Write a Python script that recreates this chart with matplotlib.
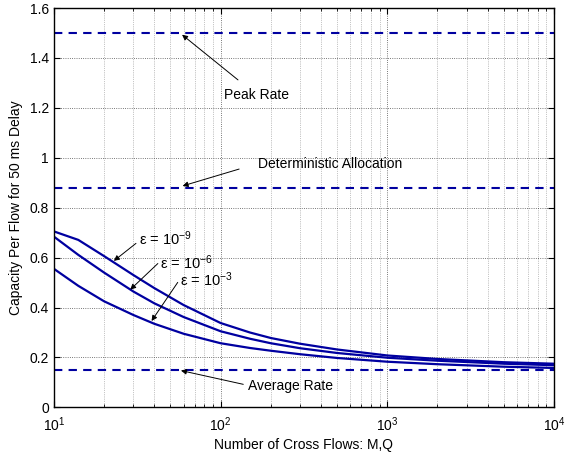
import numpy as np
import matplotlib
matplotlib.use("Agg")
import matplotlib.pyplot as plt

plt.rcParams['font.family'] = ['Liberation Sans', 'DejaVu Sans']
plt.rcParams['mathtext.default'] = 'regular'

# data
flows = [10, 14, 20, 30, 40, 60, 100, 150, 200, 300, 500, 1000, 2000, 5000, 10000]
cap_e9 = [0.705, 0.671, 0.606, 0.530, 0.478, 0.410, 0.338, 0.300, 0.278, 0.255, 0.232, 0.208, 0.194, 0.181, 0.175]
cap_e6 = [0.684, 0.611, 0.540, 0.464, 0.417, 0.362, 0.305, 0.275, 0.257, 0.237, 0.218, 0.199, 0.187, 0.175, 0.169]
cap_e3 = [0.555, 0.487, 0.425, 0.370, 0.335, 0.295, 0.257, 0.238, 0.227, 0.213, 0.198, 0.183, 0.173, 0.163, 0.158]
peak_rate = 1.5
det_alloc = 0.88
avg_rate = 0.15
yticks = [0, 0.2, 0.4, 0.6, 0.8, 1.0, 1.2, 1.4, 1.6]
yticklabels = ['0', '0.2', '0.4', '0.6', '0.8', '1', '1.2', '1.4', '1.6']

blue = '#0000a0'

fig = plt.figure(figsize=(5.74, 4.58), dpi=100)
ax = fig.add_axes([0.094, 0.1105, 0.871, 0.872])

for y in [peak_rate, det_alloc, avg_rate]:
    ax.axhline(y, color=blue, lw=1.5, ls=(0, (4, 3)))

ax.plot(flows, cap_e9, color=blue, lw=1.6)
ax.plot(flows, cap_e6, color=blue, lw=1.6)
ax.plot(flows, cap_e3, color=blue, lw=1.6)

ax.set_xscale('log')
ax.set_xlim(10, 10000)
ax.set_ylim(0, 1.6)
ax.set_yticks(yticks)
ax.set_yticklabels(yticklabels)
ax.set_xticks([10, 100, 1000, 10000])
ax.set_xticklabels(['$10^1$', '$10^2$', '$10^3$', '$10^4$'])

ax.grid(True, which='major', color='k', ls=':', lw=0.6, alpha=0.7)
ax.grid(True, which='minor', axis='x', color='k', ls=':', lw=0.5, alpha=0.45)
ax.tick_params(which='both', direction='in', top=True, right=True, labelsize=10)
ax.tick_params(axis='x', which='major', pad=6)
ax.tick_params(which='major', length=4)
ax.tick_params(which='minor', length=2.5)
for s in ax.spines.values():
    s.set_linewidth(1.0)

ax.set_xlabel('Number of Cross Flows: M,Q', fontsize=10, labelpad=3)
ax.set_ylabel('Capacity Per Flow for 50 ms Delay', fontsize=10, labelpad=5)

arrow = dict(arrowstyle='-|>', color='k', lw=0.7, mutation_scale=8)
fs = 10
ax.annotate('', xy=(57, 1.5), xytext=(131, 1.305), arrowprops=arrow)
ax.text(105, 1.25, 'Peak Rate', fontsize=fs, va='center', ha='left')
ax.annotate('', xy=(57, 0.884), xytext=(134, 0.958), arrowprops=arrow)
ax.text(168, 0.975, 'Deterministic Allocation', fontsize=fs, va='center', ha='left')
ax.annotate('', xy=(55.7, 0.15), xytext=(142, 0.09), arrowprops=arrow)
ax.text(146, 0.086, 'Average Rate', fontsize=fs, va='center', ha='left')

ax.annotate('', xy=(22.2, 0.58), xytext=(32, 0.664), arrowprops=arrow)
ax.text(32.5, 0.675, 'ε = 10$^{-9}$', fontsize=fs + 0.5, va='center', ha='left')
ax.annotate('', xy=(27.9, 0.464), xytext=(43.2, 0.584), arrowprops=arrow)
ax.text(43.5, 0.58, 'ε = 10$^{-6}$', fontsize=fs + 0.5, va='center', ha='left')
ax.annotate('', xy=(37.7, 0.337), xytext=(56.5, 0.51), arrowprops=arrow)
ax.text(57, 0.51, 'ε = 10$^{-3}$', fontsize=fs + 0.5, va='center', ha='left')

fig.savefig('out.png', dpi=100)
